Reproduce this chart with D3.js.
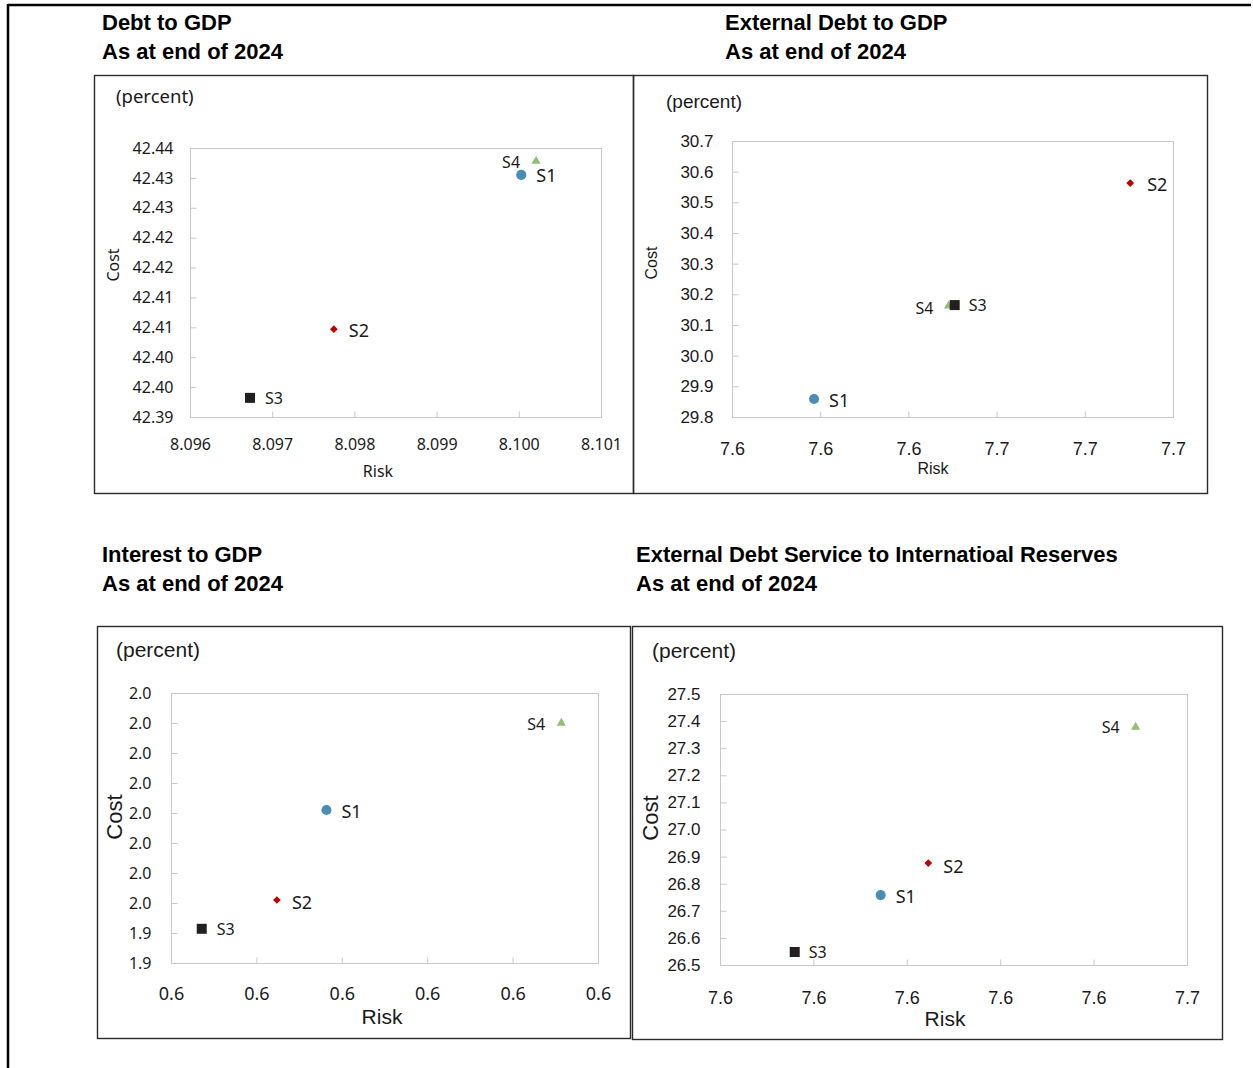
<!DOCTYPE html>
<html>
<head>
<meta charset="utf-8">
<script src="https://cdn.jsdelivr.net/npm/d3@7"></script>
<style>
  html, body { margin: 0; padding: 0; background: #fff; }
  svg { display: block; }
</style>
</head>
<body>
<svg id="chart" width="1253" height="1068"></svg>
<script>
// ---------- DATA ----------
const seriesNames = ["S1", "S2", "S3", "S4"];

// Debt to GDP
const debtRisk = [8.10003, 8.09775, 8.09673, 8.10021];
const debtCost = [42.4305, 42.4047, 42.3932, 42.4328];
const debtXTicks = [8.096, 8.097, 8.098, 8.099, 8.100, 8.101];
const debtXLabels = ["8.096", "8.097", "8.098", "8.099", "8.100", "8.101"];
const debtYTicks = [42.390, 42.395, 42.400, 42.405, 42.410, 42.415, 42.420, 42.425, 42.430, 42.435];
const debtYLabels = ["42.39", "42.40", "42.40", "42.41", "42.41", "42.42", "42.42", "42.43", "42.43", "42.44"];

// External Debt to GDP
const extRisk = [7.6186, 7.6903, 7.6505, 7.6491];
const extCost = [29.8587, 30.563, 30.165, 30.162];
const extXTicks = [7.60, 7.62, 7.64, 7.66, 7.68, 7.70];
const extXLabels = ["7.6", "7.6", "7.6", "7.7", "7.7", "7.7"];
const extYTicks = [29.8, 29.9, 30.0, 30.1, 30.2, 30.3, 30.4, 30.5, 30.6, 30.7];
const extYLabels = ["29.8", "29.9", "30.0", "30.1", "30.2", "30.3", "30.4", "30.5", "30.6", "30.7"];

// Interest to GDP
const intRisk = [0.6082, 0.6024, 0.5936, 0.6357];
const intCost = [1.9655, 1.9505, 1.9457, 1.9800];
const intXTicks = [0.59, 0.60, 0.61, 0.62, 0.63, 0.64];
const intXLabels = ["0.6", "0.6", "0.6", "0.6", "0.6", "0.6"];
const intYTicks = [1.940, 1.945, 1.950, 1.955, 1.960, 1.965, 1.970, 1.975, 1.980, 1.985];
const intYLabels = ["1.9", "1.9", "2.0", "2.0", "2.0", "2.0", "2.0", "2.0", "2.0", "2.0"];

// External Debt Service to International Reserves
const edsRisk = [7.6172, 7.6223, 7.6080, 7.6445];
const edsCost = [26.758, 26.876, 26.548, 27.378];
const edsXTicks = [7.60, 7.61, 7.62, 7.63, 7.64, 7.65];
const edsXLabels = ["7.6", "7.6", "7.6", "7.6", "7.6", "7.7"];
const edsYTicks = [26.5, 26.6, 26.7, 26.8, 26.9, 27.0, 27.1, 27.2, 27.3, 27.4, 27.5];
const edsYLabels = ["26.5", "26.6", "26.7", "26.8", "26.9", "27.0", "27.1", "27.2", "27.3", "27.4", "27.5"];

const titles = [
  ["Debt to GDP", "As at end of 2024"],
  ["External Debt to GDP", "As at end of 2024"],
  ["Interest to GDP", "As at end of 2024"],
  ["External Debt Service to Internatioal Reserves", "As at end of 2024"]
];
const unitLabel = "(percent)";
const xTitle = "Risk";
const yTitle = "Cost";

// ---------- STYLE / LAYOUT ----------
const SEGOE = "'Noto Sans', 'Open Sans', sans-serif";
const ARIAL = "'Liberation Sans', Arial, sans-serif";
const markerColor = { S1: "#4a8db4", S2: "#c00000", S3: "#231f20", S4: "#8fbf73" };
const markerType = { S1: d3.symbolCircle, S2: d3.symbolSquare, S3: d3.symbolSquare, S4: d3.symbolTriangle };
const markerSize = { S1: 80, S2: 30, S3: 100, S4: 36 };
const markerRot = { S1: 0, S2: 45, S3: 0, S4: 0 };

const panels = [
  {
    risk: debtRisk, cost: debtCost, xt: debtXTicks, xl: debtXLabels, yt: debtYTicks, yl: debtYLabels, title: titles[0],
    box: [94, 75, 633, 493], titleX: 102, titleY: 30,
    plot: [190, 148, 601, 417],
    tickFont: SEGOE, tickSize: 16, xTickSize: 16, xPad: 21, yPad: 17,
    unit: { x: 116, y: 103, font: SEGOE, size: 18.5 },
    costLab: { x: 119, y: 265, font: SEGOE, size: 16 },
    riskLab: { x: 378, y: 477, font: SEGOE, size: 16 },
    labSide: { S1: 1, S2: 1, S3: 1, S4: -1 }, labDy: { S1: 1, S2: 1, S3: 1, S4: 1 }, labDx: { S1: 15, S2: 15, S3: 15, S4: 16 }
  },
  {
    risk: extRisk, cost: extCost, xt: extXTicks, xl: extXLabels, yt: extYTicks, yl: extYLabels, title: titles[1],
    box: [633, 75, 1207, 493], titleX: 725, titleY: 30,
    plot: [732, 141, 1173, 417],
    tickFont: ARIAL, tickSize: 17, xTickSize: 18, xPad: 25, yPad: 19,
    unit: { x: 666, y: 108, font: ARIAL, size: 19 },
    costLab: { x: 657, y: 263, font: ARIAL, size: 16 },
    riskLab: { x: 933, y: 474, font: ARIAL, size: 16 },
    labSide: { S1: 1, S2: 1, S3: 1, S4: -1 }, labDy: { S1: 2, S2: 1, S3: 0, S4: 3 }, labDx: { S1: 15, S2: 17, S3: 14, S4: 15 }
  },
  {
    risk: intRisk, cost: intCost, xt: intXTicks, xl: intXLabels, yt: intYTicks, yl: intYLabels, title: titles[2],
    box: [97, 626, 630, 1038], titleX: 102, titleY: 562,
    plot: [171, 693, 598, 963],
    tickFont: SEGOE, tickSize: 16, xTickSize: 18, xPad: 24, yPad: 20,
    unit: { x: 116, y: 657, font: ARIAL, size: 21 },
    costLab: { x: 122, y: 817, font: ARIAL, size: 22 },
    riskLab: { x: 382, y: 1024, font: ARIAL, size: 21 },
    labSide: { S1: 1, S2: 1, S3: 1, S4: -1 }, labDy: { S1: 1, S2: 2, S3: 1, S4: 1 }, labDx: { S1: 15, S2: 15, S3: 15, S4: 16 }
  },
  {
    risk: edsRisk, cost: edsCost, xt: edsXTicks, xl: edsXLabels, yt: edsYTicks, yl: edsYLabels, title: titles[3],
    box: [632, 626, 1222, 1039], titleX: 636, titleY: 562,
    plot: [720, 694, 1187, 965],
    tickFont: ARIAL, tickSize: 17, xTickSize: 18, xPad: 26, yPad: 20,
    unit: { x: 652, y: 658, font: ARIAL, size: 21 },
    costLab: { x: 658, y: 818, font: ARIAL, size: 22 },
    riskLab: { x: 945, y: 1026, font: ARIAL, size: 21 },
    labSide: { S1: 1, S2: 1, S3: 1, S4: -1 }, labDy: { S1: 1, S2: 3, S3: 1, S4: 0 }, labDx: { S1: 15, S2: 15, S3: 14, S4: 16 }
  }
];

const svg = d3.select("#chart");

// outer frame (page border)
svg.append("line").attr("x1", 8).attr("y1", 5).attr("x2", 1251).attr("y2", 5)
  .attr("stroke", "#000").attr("stroke-width", 2.5);
svg.append("line").attr("x1", 8).attr("y1", 4).attr("x2", 8).attr("y2", 1068)
  .attr("stroke", "#000").attr("stroke-width", 2.5);

panels.forEach(p => {
  const g = svg.append("g");
  const [bx0, by0, bx1, by1] = p.box;
  g.append("rect").attr("x", bx0 + 0.5).attr("y", by0 + 0.5)
    .attr("width", bx1 - bx0).attr("height", by1 - by0)
    .attr("fill", "none").attr("stroke", "#2b2b2b").attr("stroke-width", 1.4);

  // titles
  p.title.forEach((t, i) => {
    g.append("text").attr("x", p.titleX).attr("y", p.titleY + i * 29)
      .attr("font-family", ARIAL).attr("font-weight", "bold").attr("font-size", 22)
      .attr("fill", "#000").text(t);
  });

  const [px0, py0, px1, py1] = p.plot;
  const x = d3.scaleLinear().domain([p.xt[0], p.xt[p.xt.length - 1]]).range([px0, px1]);
  const y = d3.scaleLinear().domain([p.yt[0], p.yt[p.yt.length - 1]]).range([py1, py0]);

  // plot area border
  g.append("rect").attr("x", px0 + 0.5).attr("y", py0 + 0.5)
    .attr("width", px1 - px0).attr("height", py1 - py0)
    .attr("fill", "none").attr("stroke", "#c8c8c8").attr("stroke-width", 1);

  // y axis
  const yAxis = d3.axisLeft(y).tickValues(p.yt)
    .tickFormat((d, i) => p.yl[i]).tickSizeInner(-6).tickSizeOuter(0).tickPadding(p.yPad);
  const ya = g.append("g").attr("transform", `translate(${px0 + 0.5},0)`).call(yAxis);
  ya.select(".domain").remove();
  ya.selectAll("line").attr("stroke", "#c8c8c8");
  ya.selectAll("text").attr("font-family", p.tickFont).attr("font-size", p.tickSize).attr("fill", "#1a1a1a");

  // x axis
  const xAxis = d3.axisBottom(x).tickValues(p.xt)
    .tickFormat((d, i) => p.xl[i]).tickSizeInner(-6).tickSizeOuter(0).tickPadding(p.xPad);
  const xa = g.append("g").attr("transform", `translate(0,${py1 + 0.5})`).call(xAxis);
  xa.select(".domain").remove();
  xa.selectAll("line").attr("stroke", "#c8c8c8");
  xa.selectAll("text").attr("font-family", p.tickFont).attr("font-size", p.xTickSize).attr("fill", "#1a1a1a");

  // unit label
  g.append("text").attr("x", p.unit.x).attr("y", p.unit.y)
    .attr("font-family", p.unit.font).attr("font-size", p.unit.size).attr("fill", "#1a1a1a").text(unitLabel);

  // axis titles
  g.append("text").attr("transform", `translate(${p.costLab.x},${p.costLab.y}) rotate(-90)`)
    .attr("text-anchor", "middle").attr("font-family", p.costLab.font).attr("font-size", p.costLab.size)
    .attr("fill", "#1a1a1a").text(yTitle);
  g.append("text").attr("x", p.riskLab.x).attr("y", p.riskLab.y).attr("text-anchor", "middle")
    .attr("font-family", p.riskLab.font).attr("font-size", p.riskLab.size)
    .attr("fill", "#1a1a1a").text(xTitle);

  // points
  const pts = seriesNames.map((s, i) => ({ s, rx: p.risk[i], cy: p.cost[i] }));
  const order = ["S4", "S3", "S2", "S1"];
  order.forEach(s => {
    const d = pts.find(q => q.s === s);
    const cx = x(d.rx), cy = y(d.cy);
    g.append("path")
      .attr("d", d3.symbol().type(markerType[s]).size(markerSize[s])())
      .attr("transform", `translate(${cx},${cy}) rotate(${markerRot[s]})`)
      .attr("fill", markerColor[s]);
  });
  pts.forEach(d => {
    const cx = x(d.rx), cy = y(d.cy);
    const side = p.labSide[d.s];
    const big = (d.s === "S1" || d.s === "S2");
    g.append("text")
      .attr("x", cx + side * p.labDx[d.s])
      .attr("y", cy + (big ? 6.5 : 5.5) + p.labDy[d.s])
      .attr("text-anchor", side > 0 ? "start" : "end")
      .attr("font-family", SEGOE).attr("font-size", big ? 18 : 16)
      .attr("fill", "#1a1a1a").text(d.s);
  });
});
</script>
</body>
</html>
